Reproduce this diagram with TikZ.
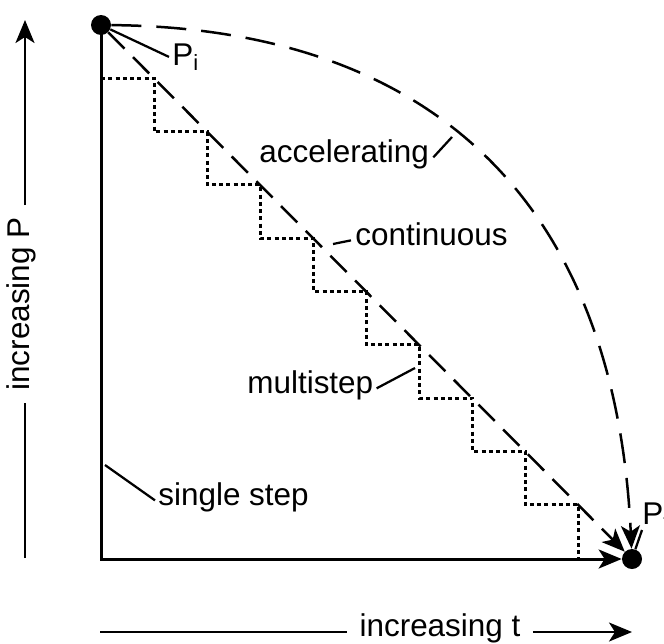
\documentclass[tikz,border=0pt]{standalone}
\usepackage{fontspec}
\setmainfont{Liberation Sans}
\usepackage{tikz}
\usetikzlibrary{arrows.meta, positioning, calc}
\tikzstyle{dot} = [circle, fill=black, inner sep=0pt, minimum size=4mm]
\tikzstyle{lbl} = [font=\fontsize{17.9}{20}\selectfont, inner sep=0pt]
\tikzstyle{axisline} = [line width=0.6mm]
\tikzstyle{leader} = [line width=0.45mm]
\tikzstyle{bigarrow} = [-{Stealth[length=4.6mm, width=3.8mm, inset=1.2mm]}]
\tikzstyle{linear} = [line width=0.5mm, dash pattern=on 4.6mm off 2.4mm]
\tikzstyle{curved} = [line width=0.5mm, dash pattern=on 6mm off 3mm]
\tikzstyle{stairs} = [line width=0.6mm, dash pattern=on 0.8mm off 0.65mm]

\begin{document}
\begin{tikzpicture}[x=0.2mm, y=-0.2mm]
    \useasboundingbox (0,0) rectangle (664,643);

    % Start and end points
    \node (pi) [dot] at (101,25) {};
    \node (pf) [dot] at (632,559) {};
    \coordinate (origin) at (101,559);

    % Axes
    \draw [axisline, bigarrow] (pi.center) -- (origin) -- (pf);

    % Multistep
    \draw [stairs] (101,78.33) \foreach \k in {1,...,9} {
        -- ({101+53.1*\k},{25+53.33*\k}) -- ({101+53.1*\k},{25+53.33*(\k+1)}) };

    % Continuous and accelerating
    \draw [linear, bigarrow] (pi) -- (pf);
    \draw [curved, bigarrow] (pi) .. controls (430,28) and (615,200) .. (pf);

    % Labels
    \node (pilbl) [lbl, anchor=base west] at (172,65) {P\textsubscript{i}};
    \node (pflbl) [lbl, anchor=south west] at (642,530) {P\textsubscript{f}};
    \node (acc) [lbl, anchor=base west] at (259,162) {accelerating};
    \node (cont) [lbl, anchor=base west] at (355,245) {continuous};
    \node (multi) [lbl, anchor=base west] at (247,393) {multistep};
    \node (single) [lbl, anchor=base west] at (158,505) {single step};

    % Leaders
    \coordinate (accpt) at (452,137);
    \coordinate (contpt) at (333,244);
    \coordinate (multipt) at (415,368);
    \coordinate (singlept) at (105,465);
    \draw [leader] (pi) -- ($(pilbl.west)+(-3,0)$);
    \draw [leader] (pf) -- (pflbl.south west);
    \draw [leader] (acc.mid east) ++(4,0) -- (accpt);
    \draw [leader] (contpt) -- ($(cont.mid west)+(-4,0)$);
    \draw [leader] (multi.mid east) ++(3,0) -- (multipt);
    \draw [leader] (singlept) -- ($(single.mid west)+(-3,0)$);

    % Axis labels
    \node (plbl) [lbl, rotate=90, anchor=mid, inner xsep=2.4mm] at (25,304) {increasing P};
    \node (tlbl) [lbl, anchor=mid, inner xsep=2.4mm] at (440,632) {increasing t};
    \coordinate (pbot) at (25,558);
    \coordinate (ptop) at (25,20);
    \coordinate (tleft) at (100,632);
    \coordinate (tright) at (632,632);
    \draw [leader] (pbot) -- (plbl.mid west);
    \draw [leader, bigarrow] (plbl.mid east) -- (ptop);
    \draw [leader] (tleft) -- (tlbl.mid west);
    \draw [leader, bigarrow] (tlbl.mid east) -- (tright);
\end{tikzpicture}
\end{document}
